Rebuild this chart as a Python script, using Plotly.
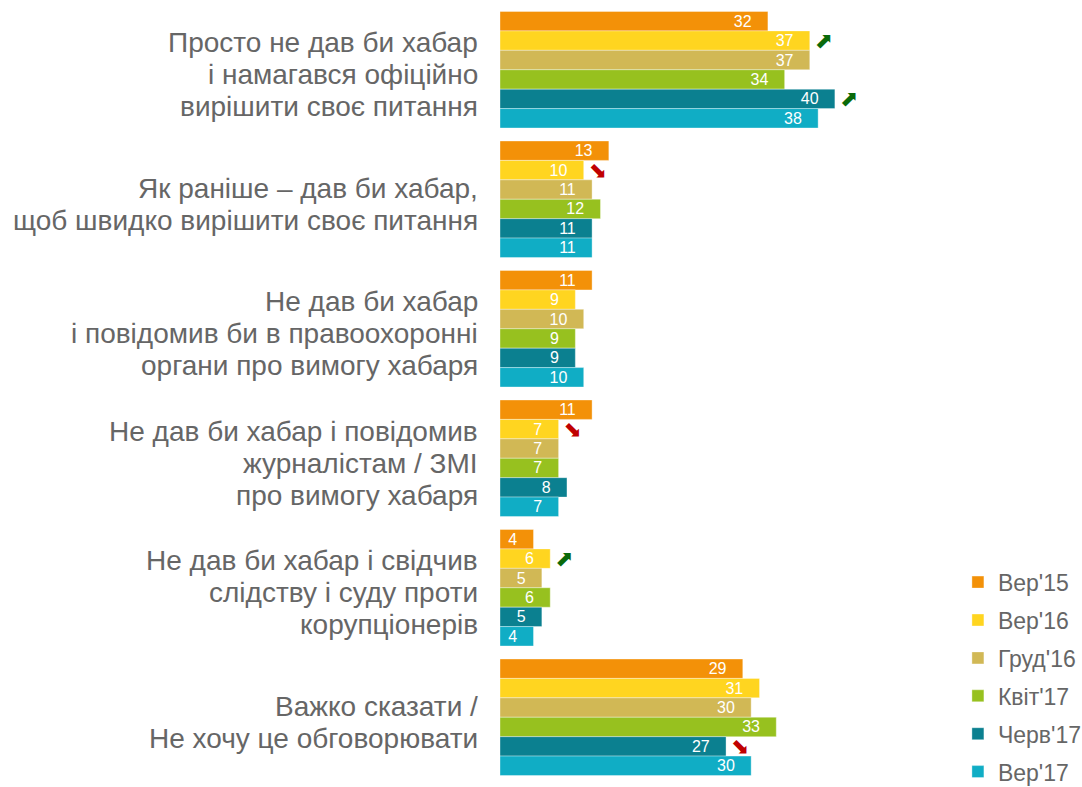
import plotly.graph_objects as go

categories = [
    "Просто не дав би хабар<br>і намагався офіційно<br>вирішити своє питання",
    "Як раніше – дав би хабар,<br>щоб швидко вирішити своє питання",
    "Не дав би хабар<br>і повідомив би в правоохоронні<br>органи про вимогу хабаря",
    "Не дав би хабар і повідомив<br>журналістам / ЗМІ<br>про вимогу хабаря",
    "Не дав би хабар і свідчив<br>слідству і суду проти<br>корупціонерів",
    "Важко сказати /<br>Не хочу це обговорювати",
]

series_names = ["Вер'15", "Вер'16", "Груд'16", "Квіт'17", "Черв'17", "Вер'17"]
series_colors = ["#F39108", "#FFD520", "#D1B855", "#97C11F", "#0B8090", "#10ADC5"]

ver15 = [32, 13, 11, 11, 4, 29]
ver16 = [37, 10, 9, 7, 6, 31]
grud16 = [37, 11, 10, 7, 5, 30]
kvit17 = [34, 12, 9, 7, 6, 33]
cherv17 = [40, 11, 9, 8, 5, 27]
ver17 = [38, 11, 10, 7, 4, 30]
series_values = [ver15, ver16, grud16, kvit17, cherv17, ver17]

# change markers: (series index, category index, direction)
changes = [
    (1, 0, "up"), (4, 0, "up"),
    (1, 1, "down"), (1, 3, "down"),
    (1, 4, "up"), (4, 5, "down"),
]

UP_COLOR = "#0A6A0A"
DOWN_COLOR = "#C00000"
ARROW_W = 3.4
LABEL_FONT = 28
LINE_GAP = 32
LABEL_OFFSET = -5

fig = go.Figure()
for i, (name, vals, col) in enumerate(zip(series_names, series_values, series_colors)):
    fig.add_trace(go.Bar(
        name=name, x=vals, y=categories, orientation="h",
        marker=dict(color=col, line=dict(color="rgba(255,255,255,0.6)", width=0.6)),
        text=[f"{v}\u00a0\u00a0\u00a0" for v in vals],
        textposition="inside", insidetextanchor="end", textangle=0,
        constraintext="none",
        textfont=dict(color="white", size=16, family="Liberation Sans, Arial"),
        offsetgroup=str(i), legendgroup=name,
        hoverinfo="skip",
    ))

for i in range(len(series_names)):
    xs, ys, bases, txt, cols = [], [], [], [], []
    for (si, ci, d) in changes:
        if si != i:
            continue
        bases.append(series_values[si][ci])
        xs.append(ARROW_W)
        ys.append(categories[ci])
        txt.append("⬈" if d == "up" else "⬊")
        cols.append(UP_COLOR if d == "up" else DOWN_COLOR)
    if not xs:
        continue
    fig.add_trace(go.Bar(
        x=xs, y=ys, base=bases, orientation="h",
        marker=dict(color="rgba(0,0,0,0)", line=dict(width=0)),
        text=txt, textposition="inside", insidetextanchor="middle",
        textangle=0, constraintext="none",
        textfont=dict(color=cols, size=22, family="DejaVu Sans"),
        offsetgroup=str(i), showlegend=False, hoverinfo="skip",
    ))

# category labels as annotations (one per line for exact line spacing)
for cat in categories:
    lines = cat.split("<br>")
    n = len(lines)
    for k, line in enumerate(lines):
        fig.add_annotation(
            x=0, xref="paper", xanchor="right", xshift=-20,
            y=cat, yref="y", yanchor="middle",
            yshift=-(k - (n - 1) / 2) * LINE_GAP + LABEL_OFFSET,
            text=line, showarrow=False, align="right",
            font=dict(size=LABEL_FONT, color="#666666", family="Liberation Sans, Arial"),
        )

fig.update_layout(
    width=1082, height=787,
    margin=dict(l=500, r=6, t=5, b=5, autoexpand=False),
    paper_bgcolor="white", plot_bgcolor="white",
    barmode="group", bargap=0.1, bargroupgap=0,
    font=dict(family="Liberation Sans, Arial", color="#666666"),
    showlegend=True,
    legend=dict(
        x=0.795, xanchor="left", y=-0.015, yanchor="bottom",
        font=dict(size=23, color="#666666"),
        traceorder="grouped", tracegroupgap=5,
        bgcolor="rgba(0,0,0,0)",
    ),
)
fig.update_xaxes(range=[0, 68.8], showticklabels=False, showgrid=False,
                 zeroline=False, showline=False)
fig.update_yaxes(autorange="reversed", showgrid=False, zeroline=False, showline=False,
                 showticklabels=False, automargin=False)

fig.write_html("out.html", config={"displayModeBar": False},
               post_script="document.body.style.margin='0';")
